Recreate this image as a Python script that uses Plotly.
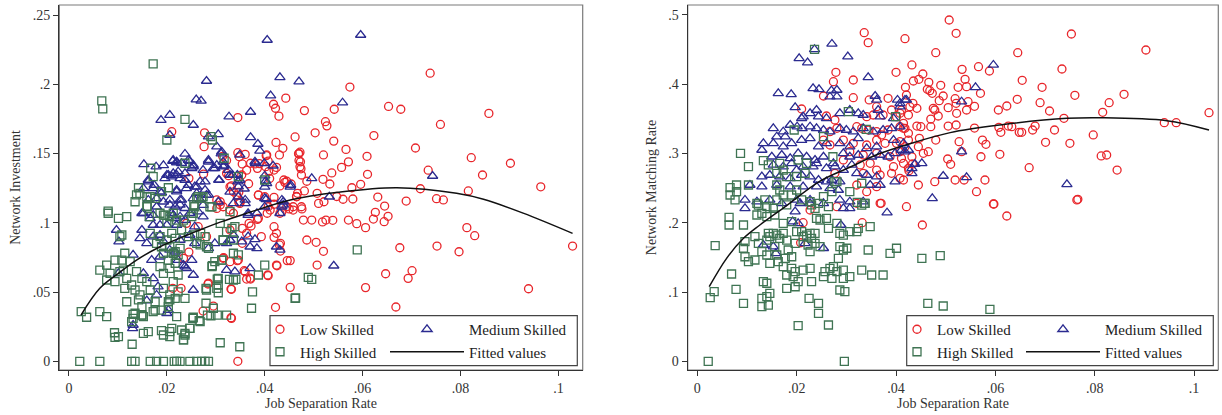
import plotly.graph_objects as go

FONT = "Liberation Serif"
RED = "#e8262b"
BLUE = "#2b2b90"
GREEN = "#3f7453"

# ---------------- tick labels ----------------
sep_ticks = [0, 0.02, 0.04, 0.06, 0.08, 0.10]
sep_labels = ["0", ".02", ".04", ".06", ".08", ".1"]
inv_ticks = [0, 0.05, 0.10, 0.15, 0.20, 0.25]
inv_labels = ["0", ".05", ".1", ".15", ".2", ".25"]
match_ticks = [0, 0.1, 0.2, 0.3, 0.4, 0.5]
match_labels = ["0", ".1", ".2", ".3", ".4", ".5"]

# ---------------- left panel: Network Investment ----------------
inv_low = [
(.0738,.208),(.0574,.198),(.0481,.181),(.0542,.182),(.0653,.184),(.0678,.182),(.0858,.179),(.0759,.171),(.0462,.162),(.0503,.165),
(.0524,.173),(.0527,.170),(.0541,.159),(.0623,.163),(.0708,.154),(.047,.150),(.052,.149),(.0566,.153),(.0609,.148),(.0473,.144),
(.0474,.139),(.0571,.144),(.0557,.140),(.0537,.136),(.061,.135),(.0822,.147),(.0902,.143),(.0734,.138),(.0845,.1345),(.0964,.126),
(.0816,.123),(.0718,.1246),(.0596,.1278),(.0578,.1253),(.0533,.128),(.0519,.1314),(.0486,.130),(.0481,.123),(.0507,.1213),(.0547,.119),
(.056,.117),(.058,.1172),(.0631,.1186),(.0689,.1157),(.0751,.1174),(.0765,.1165),(.0645,.1121),(.051,.114),(.0521,.1152),(.0465,.119),
(.0475,.1116),(.1029,.0832),(.0813,.0965),(.0829,.0907),(.0752,.0832),(.0797,.0791),(.0676,.082),(.0626,.1076),(.0622,.1027),(.0652,.1047),
(.0644,.1008),(.0606,.0965),(.0588,.0994),(.0571,.102),(.0539,.1018),(.0518,.1006),(.0525,.102),(.0496,.102),(.0479,.102),(.0476,.110),
(.0458,.1092),(.0486,.0876),(.0505,.0859),(.052,.0794),(.0507,.0695),(.0647,.0632),(.0701,.0654),(.0693,.0599),(.0606,.0532),(.0668,.0392),
(.0939,.0524),(.0452,.0727),(.0452,.0534),(.021,.1658),(.0277,.165),(.0276,.155),(.0345,.176),(.0443,.190),(.0418,.1856),(.0422,.1827),
(.0429,.177),(.0423,.158),(.0437,.1538),(.043,.149),(.0345,.1506),(.036,.1494),(.0348,.1477),(.0354,.1425),(.038,.1425),(.0389,.1427),
(.0404,.149),(.0314,.148),(.0322,.145),(.0322,.1357),(.0326,.134),(.0275,.1352),(.0245,.1321),(.0347,.1148),(.0347,.122),(.0332,.1266),
(.0367,.1282),(.0387,.1201),(.0402,.1405),(.0419,.1381),(.0439,.1309),(.0441,.1292),(.0454,.128),(.0419,.1184),(.0419,.1134),(.0472,.151),
(.0467,.1213),(.0302,.1165),(.0245,.0789),(.0281,.090),(.0316,.0748),(.0329,.0719),(.0212,.0527),(.0229,.0527),(.0285,.0565),(.0274,.0363),
(.0295,.0399),(.0332,.052),(.0332,.031),(.0345,0),(.0358,.0654),(.0363,.0594),(.0371,.0594),(.0344,.0727),(.0354,.0852),(.0363,.0924),
(.0368,.0996),(.0387,.1032),(.0405,.1069),(.0419,.0972),(.0419,.0895),(.0393,.090),(.0432,.0852),(.0432,.0796),(.0425,.069),(.0446,.0727),
(.0407,.0618),(.0422,.039),(.0431,.1069),(.045,.110),(.0329,.1092),(.0336,.1069),(.0349,.114),(.0309,.1128),(.024,.0996),(.0264,.0972),
(.0385,.1025),(.0372,.0977),(.0354,.096),(.0424,.0924),(.043,.084),(.0424,.0695),(.0406,.0623),(.036,.0647),(.037,.060),(.0329,.0948),
(.0315,.0744),(.0346,.0731),(.0284,.0558),(.0331,.0522),(.0331,.0315),(.0234,.0744),(.0403,.1485),(.0407,.1446),(.0385,.1393),(.0371,.143),
(.0363,.138),(.0353,.1345),(.0408,.137),(.0424,.140),(.041,.132),(.0469,.1498),(.047,.145),(.0472,.1405),(.0475,.1345),(.0445,.130),
(.0431,.1266),(.0329,.126),(.0336,.1224),(.0343,.120),(.035,.1152),(.0309,.1152),(.0315,.1116),(.0302,.1104),(.0387,.120),(.04,.1188),
(.0407,.1116),(.0411,.1092),(.0465,.1188),(.0458,.1116),(.0445,.1116),(.0435,.108),
]

inv_med = [
(.0405,.232),(.0431,.205),(.047,.202),(.0281,.2024),(.0412,.1918),(.026,.189),(.027,.188),(.0371,.180),(.0327,.1766),(.0206,.1778),
(.0188,.1742),(.0254,.1706),(.0206,.1634),(.0305,.1639),(.0371,.1617),(.0386,.1569),(.039,.152),(.0302,.155),(.0311,.150),(.0237,.1497),
(.0153,.1422),(.0178,.1405),(.0193,.1415),(.0212,.1446),(.022,.1434),(.0247,.1446),(.0285,.1441),(.0298,.1393),(.0317,.1412),(.0334,.1345),
(.0306,.1309),(.0344,.1345),(.0345,.1297),(.0358,.1246),(.0381,.143),(.0399,.143),(.0417,.1412),(.040,.134),(.0402,.1302),(.040,.126),
(.0452,.126),(.0435,.1165),(.0403,.117),(.0162,.1297),(.0174,.1273),(.0196,.1321),(.0203,.1345),(.0213,.1357),(.0223,.1369),(.0237,.1357),
(.0254,.1405),(.0268,.1297),(.0261,.126),(.0244,.1273),(.022,.1237),(.0189,.1217),(.0179,.1177),(.0206,.1165),(.023,.1165),(.0254,.1177),
(.0281,.120),(.0329,.1224),(.0336,.114),(.036,.1165),(.0274,.1128),(.0305,.1152),(.0596,.2356),(.0559,.1867),(.0496,.1321),(.0532,.1188),
(.0743,.1338),(.0453,.1273),(.0541,.069),(.0312,.1513),(.0285,.1622),(.0349,.149),(.038,.1441),(.0244,.1453),(.0254,.1417),(.0251,.1394),
(.0274,.1381),(.0285,.1453),(.0295,.1394),(.0302,.1417),(.0315,.1405),(.0315,.1441),(.0326,.1381),(.0329,.1345),(.0278,.1297),(.0307,.1309),
(.0349,.1309),(.0346,.1261),(.0404,.1285),(.0237,.1309),(.024,.1249),(.0257,.1261),(.0261,.1213),(.0278,.1237),(.0285,.1201),(.0268,.1165),
(.040,.1177),(.0438,.1129),(.040,.1116),(.0346,.1188),(.036,.1141),(.0366,.1069),(.0227,.1165),(.0237,.1105),(.0247,.1069),(.0264,.108),
(.0274,.1044),(.0213,.1453),(.022,.1441),(.023,.143),(.020,.1345),(.021,.1333),(.022,.1345),(.0227,.1321),(.0162,.1309),(.0152,.1249),
(.0172,.1249),(.0186,.1225),(.022,.1225),(.0193,.1152),(.0206,.1129),(.0217,.1116),(.0227,.1129),(.0149,.1069),(.0162,.1165),(.0179,.1116),
(.0213,.1056),(.0227,.1044),(.0152,.1069),(.0172,.1056),(.0186,.0984),(.0172,.0984),(.0166,.1032),(.021,.1069),(.0217,.1032),(.022,.0984),
(.020,.0984),(.0097,.0948),(.0102,.0864),(.0149,.0948),(.0145,.0888),(.0159,.0852),(.0172,.090),(.0186,.0912),(.0193,.0864),(.0131,.0768),
(.0169,.0731),(.0186,.0755),(.0206,.0804),(.0217,.0791),(.0223,.0731),(.0152,.0635),(.0172,.0599),(.0182,.0539),(.0101,.0635),(.0159,.0438),
(.0179,.0479),(.0203,.037),(.020,.0347),(.0131,.0262),(.013,.0238),(.0234,.0695),(.0237,.102),(.0257,.0972),(.0247,.0912),(.0227,.0876),
(.0257,.0852),(.0285,.0816),(.0298,.0852),(.0322,.0852),(.0329,.0876),(.0336,.0912),(.0353,.0864),(.0366,.090),(.038,.0881),(.037,.0827),
(.0384,.0816),(.0424,.0827),(.0431,.0804),(.0366,.1056),(.0384,.1069),(.0431,.1069),(.0322,.0659),(.0339,.0647),(.037,.0671),(.0251,.0731),
(.0237,.0683),(.0254,.0623),(.024,.0671),(.0254,.0515),(.0435,.1116),(.0438,.1152),
]

inv_high = [
(.0172,.2147),(.0067,.188),(.0069,.1822),(.0237,.1747),(.020,.1598),(.029,.1622),(.0293,.1598),(.0317,.1466),(.0167,.1394),(.0172,.1333),
(.0237,.143),(.0142,.1253),(.0203,.1253),(.0138,.1201),(.0135,.1152),(.0159,.1188),(.0176,.1177),(.0159,.1121),(.0189,.1225),(.0261,.1177),
(.0274,.1188),(.0255,.1129),(.0346,.1333),(.040,.1309),(.008,.1085),(.0288,.1116),(.0589,.0804),(.0489,.0606),(.0496,.0592),(.0463,.0457),
(.0025,.0358),(.0036,.0318),(.0063,.0358),(.0077,.0322),(.0022,0),(.0063,0),(.0128,0),(.0135,0),(.0166,0),(.0179,0),
(.0193,0),(.0215,0),(.022,0),(.0227,0),(.0247,0),(.0261,0),(.0271,0),(.0278,0),(.0285,0),(.0093,.0206),
(.0101,.0178),(.0094,.0173),(.0129,.0123),(.0131,.0339),(.0131,.031),(.0128,.0286),(.0149,.0334),(.0152,.0322),(.0162,.0214),(.0152,.0202),
(.0172,.0358),(.0176,.043),(.0189,.0221),(.0193,.019),(.0206,.0214),(.021,.0238),(.0206,.0178),(.023,.0226),(.0237,.019),(.0247,.0238),
(.0234,.0154),(.0203,.043),(.0206,.0443),(.022,.0322),(.0237,.0455),(.0253,.031),(.0266,.0293),(.028,.0419),(.0283,.0334),(.029,.0329),
(.0295,.0383),(.0303,.0334),(.0322,.0334),(.0309,.0134),(.0349,.0105),(.0373,.0383),(.0375,.0502),(.028,.0527),(.0305,.0551),(.0303,.0594),
(.0336,.0587),(.0328,.0592),(.0341,.0592),(.0387,.0623),(.040,.0695),(.0462,.0455),(.0298,.0719),(.0312,.0731),(.0293,.069),(.0281,.0827),
(.0285,.0816),(.0336,.0876),(.0333,.096),(.0339,.0972),(.0315,.0876),(.0268,.084),(.0257,.0912),(.0269,.0924),(.008,.1069),(.0101,.1032),
(.0118,.1044),(.0108,.0912),(.0104,.090),(.0114,.078),(.0125,.0719),(.0063,.0659),(.0077,.0695),(.0084,.0635),(.0077,.0587),(.0094,.0575),
(.0094,.0731),(.0111,.0659),(.0118,.0599),(.0114,.0527),(.0128,.0551),(.0135,.0515),(.0118,.043),(.0142,.0443),(.0149,.0394),(.0135,.0347),
(.0149,.0334),(.0104,.0647),(.0108,.0731),(.0138,.0647),(.0149,.0599),(.0159,.0575),(.0166,.0515),(.0145,.0479),(.0162,.0455),(.0176,.037),
(.0189,.037),(.0203,.0394),(.0186,.0683),(.0193,.0635),(.0206,.0671),(.0213,.0575),(.0223,.0623),(.0217,.0708),(.0203,.0731),(.0213,.078),
(.0223,.0768),(.0223,.0502),(.0206,.0479),(.0217,.0455),(.0193,.0527),(.0166,.0924),(.0186,.090),(.0179,.0852),(.0189,.0827),(.020,.0876),
(.021,.0924),(.0217,.0888),(.0206,.0827),(.0217,.0791),(.0227,.0816),(.0193,.078),(.0186,.1069),(.0193,.1056),(.0206,.1044),(.022,.102),
(.0213,.1069),(.020,.0996),(.0234,.102),(.0251,.1044),(.023,.0948),(.0244,.090),(.0261,.0852),(.0278,.090),(.0315,.0876),(.0309,.0996),
(.0322,.0936),(.0336,.078),(.0346,.0768),(.0312,.0731),(.0292,.0683),(.0305,.0599),(.0281,.0515),(.0302,.0527),(.0305,.0495),(.0254,.0318),
(.0268,.0286),(.0247,.0238),(.0237,.0202),(.0234,.0154),(.0145,.1213),(.016,.1116),(.0166,.1188),(.0164,.1044),(.0196,.1056),(.0264,.1188),
(.0271,.1177),(.0257,.1116),(.0292,.1116),(.0254,.1069),(.0329,.108),
]

inv_fit = [
(.00245,.0334),(.0063,.0527),(.0101,.0635),(.0138,.0731),(.0186,.0827),(.0237,.0905),(.0309,.1005),(.036,.1065),(.0452,.1165),
(.055,.122),(.067,.1253),(.0792,.1213),(.0847,.117),(.0928,.107),(.1029,.0924),
]

# ---------------- right panel: Network Matching Rate ----------------
match_low = [
(.0507,.4925),(.0521,.4733),(.0418,.4655),(.0753,.4723),(.0903,.4492),(.048,.4453),(.0645,.4453),(.0432,.4276),(.0566,.4251),(.0533,.4213),
(.0588,.4189),(.0734,.4218),(.0454,.4146),(.0446,.4069),(.0435,.4045),(.0466,.4026),(.0463,.3925),(.0473,.3867),(.0468,.3905),(.049,.3983),
(.0495,.3828),(.0539,.4069),(.0542,.3963),(.0525,.3954),(.057,.3867),(.0654,.4055),(.0694,.3954),(.076,.3838),(.0859,.3853),(.0419,.3954),
(.0421,.3843),(.0487,.3761),(.0475,.3651),(.047,.3496),(.0485,.354),(.0478,.3626),(.0434,.3723),(.0428,.3674),(.0425,.3554),(.0411,.3626),
(.0442,.3651),(.0519,.3789),(.0521,.3723),(.0505,.366),(.0522,.3579),(.0545,.3746),(.0542,.3626),(.0558,.368),(.0606,.3626),(.0623,.3684),
(.0644,.3781),(.069,.3732),(.0709,.3612),(.0816,.3593),(.0829,.3732),(.0738,.3506),(.094,.3443),(.0964,.3443),(.103,.3587),(.0408,.3385),
(.0415,.3362),(.0442,.3395),(.045,.3385),(.047,.3385),(.0505,.3395),(.0521,.341),(.0558,.3366),(.0607,.3376),(.0611,.3304),(.0626,.3395),
(.0633,.3385),(.0648,.3304),(.0653,.3304),(.0675,.3338),(.068,.3395),(.0719,.3338),(.0797,.3266),(.0701,.316),(.075,.3146),(.0425,.329),
(.0425,.3193),(.0447,.3218),(.048,.3193),(.0445,.3097),(.0408,.3169),(.0527,.3169),(.0574,.3193),(.0581,.3131),(.0571,.2952),(.0609,.2987),
(.0532,.3025),(.0455,.3001),(.0465,.3025),(.0432,.2952),(.0411,.2929),(.0504,.2919),(.051,.2843),(.0433,.2847),(.0426,.275),(.0408,.2641),
(.0668,.2794),(.0813,.2963),(.0824,.2977),(.0845,.276),(.0766,.2338),(.0596,.227),(.0478,.2592),(.0445,.2544),(.0421,.2231),(.0519,.2616),
(.0537,.2616),(.0562,.2447),(.0579,.2616),(.0336,.4742),(.0344,.4598),(.0279,.417),(.0274,.4035),(.0314,.4059),(.040,.417),(.021,.3641),
(.0254,.3828),(.0314,.3804),(.0346,.3771),(.0361,.3674),(.0384,.3795),(.0341,.353),(.0354,.3554),(.0374,.3554),(.0391,.3626),(.0401,.353),
(.0408,.3579),(.0415,.3434),(.0418,.3362),(.026,.354),(.0277,.3482),(.0281,.3362),(.0267,.3313),(.0321,.3385),(.0331,.3362),(.0344,.3338),
(.0361,.3313),(.0371,.3266),(.0384,.3338),(.0254,.3193),(.0267,.3121),(.0294,.3193),(.0314,.3146),(.0341,.3121),(.0361,.3193),(.0378,.3146),
(.0401,.3146),(.0418,.3097),(.0307,.3025),(.0334,.2977),(.0361,.3001),(.0388,.2952),(.0408,.3025),(.0294,.2905),(.0328,.2833),(.0348,.2857),
(.0361,.276),(.0395,.2808),(.0415,.2857),(.0425,.2785),(.0277,.2713),(.0334,.2713),(.0368,.2688),(.0391,.2713),(.0321,.2544),(.0341,.2447),
(.0361,.252),(.0415,.2616),(.0281,.2231),(.0368,.228),(.0321,.228),(.0227,.2183),(.0213,.200),(.0208,.1711),(.037,.228),(.0332,.200),
(.0453,.1967),(.0597,.227),(.0623,.2097),(.0764,.2328),
]

match_med = [
(.0271,.4579),(.0236,.4502),(.0205,.4372),(.0222,.4309),(.0303,.4396),(.0344,.4098),(.0163,.3867),(.0189,.3853),(.0233,.3939),(.0245,.3925),
(.027,.3905),(.0281,.3915),(.0267,.3818),(.0281,.3818),(.0358,.3828),(.0361,.3771),(.0403,.3771),(.0421,.3771),(.0197,.3665),(.0213,.353),
(.021,.3506),(.0227,.3579),(.024,.3626),(.0244,.353),(.026,.3506),(.0287,.3579),(.0307,.3626),(.0324,.3579),(.0334,.3554),(.0364,.3626),
(.0368,.353),(.0395,.3506),(.0408,.3674),(.0153,.3362),(.0173,.3313),(.0177,.3241),(.016,.3241),(.0187,.341),(.0201,.3385),(.0211,.3362),
(.0227,.3385),(.024,.3362),(.0254,.3338),(.0267,.3313),(.0287,.3362),(.030,.3338),(.0314,.3313),(.0334,.3362),(.0354,.3313),(.0374,.3338),
(.0391,.3362),(.0408,.3385),(.0133,.3146),(.0153,.3146),(.0173,.3097),(.019,.3146),(.021,.3193),(.0227,.3218),(.0244,.3097),(.026,.3146),
(.0287,.3146),(.0307,.3097),(.0324,.3218),(.0341,.3073),(.0361,.3097),(.0395,.3193),(.0415,.3146),(.013,.3049),(.015,.2952),(.017,.2977),
(.0187,.2929),(.0203,.3001),(.022,.2952),(.0237,.2905),(.0254,.2952),(.0274,.2857),(.0294,.3001),(.0307,.2952),(.0324,.2977),(.0351,.2952),
(.0368,.2977),(.0384,.2952),(.0398,.3001),(.0418,.3025),(.0153,.2833),(.0173,.2808),(.019,.2857),(.020,.276),(.0213,.2808),(.0233,.2808),
(.024,.2857),(.026,.2785),(.0277,.2808),(.0294,.276),(.0311,.2833),(.013,.2664),(.0146,.2688),(.0166,.2664),(.0187,.2641),(.021,.2688),
(.0227,.2664),(.0244,.2616),(.026,.2592),(.0271,.2616),(.0287,.2592),(.0321,.2713),(.0341,.2688),(.0361,.2664),(.0398,.2592),(.0106,.2544),
(.013,.252),(.016,.2544),(.0187,.252),(.0213,.252),(.024,.252),(.0267,.2496),(.0284,.2472),(.0348,.2544),(.0368,.2544),(.0096,.2328),
(.012,.2303),(.0146,.2328),(.017,.228),(.020,.2328),(.0227,.2328),(.0254,.228),(.0287,.2328),(.0307,.2303),(.0334,.2303),(.0596,.4276),
(.056,.3954),(.0532,.3746),(.0418,.3771),(.0408,.3723),(.0532,.3025),(.0411,.3049),(.0425,.3049),(.0438,.2847),(.0452,.2857),(.0432,.2785),
(.0432,.2713),(.0495,.2674),(.0542,.2655),(.0473,.2352),(.0744,.2554),(.0096,.2208),(.0197,.2159),(.0207,.228),(.0227,.228),(.0192,.2015),
(.0203,.1991),(.0217,.1703),(.0254,.1631),(.0133,.1678),(.0153,.1654),(.0158,.1558),(.0289,.1967),(.0294,.2208),(.0307,.2208),(.0382,.2144),
]

match_high = [
(.0236,.4502),(.0087,.3001),(.0103,.2808),(.0133,.2895),(.0143,.2833),(.0166,.2857),(.0173,.276),(.016,.2713),(.018,.2664),(.0195,.3338),
(.0203,.2905),(.022,.2857),(.0217,.2713),(.020,.2664),(.0254,.3241),(.0273,.2952),(.0277,.2592),(.0304,.3602),(.034,.3348),(.0331,.2569),
(.0322,.2294),(.0336,.228),(.0399,.353),(.0066,.2505),(.0079,.2544),(.0066,.240),(.0076,.2328),(.0079,.2447),(.0103,.2544),(.012,.228),
(.0136,.2328),(.016,.2544),(.0166,.2472),(.0173,.240),(.016,.2328),(.018,.2256),(.019,.240),(.020,.2472),(.021,.2328),(.0227,.2303),
(.023,.2256),(.0244,.228),(.0254,.2375),(.0271,.2447),(.0307,.2447),(.0281,.2592),(.0022,0),(.0296,0),(.0026,.0918),(.0034,.1004),
(.0036,.1668),(.0064,.2078),(.0064,.1967),(.0069,.126),(.0078,.1039),(.0093,.0837),(.0093,.1967),(.0096,.1726),(.0093,.1631),(.0096,.1509),
(.0103,.1437),(.0116,.1462),(.012,.2111),(.0123,.2255),(.013,.2136),(.014,.2231),(.0153,.2208),(.0156,.2111),(.014,.2087),(.0116,.1798),
(.0123,.1703),(.013,.1582),(.014,.175),(.0146,.1798),(.014,.1534),(.0146,.1414),(.0143,.1847),(.0133,.1149),(.014,.1126),(.013,.0909),
(.014,.0932),(.0143,.0812),(.0146,.0981),(.013,.0788),(.0153,.1847),(.016,.1822),(.0166,.1774),(.0173,.1847),(.018,.175),(.0156,.1654),
(.016,.1534),(.0163,.1437),(.0177,.1486),(.0183,.1606),(.019,.1509),(.0197,.1703),(.020,.187),(.019,.2015),(.0173,.1991),(.0173,.1365),
(.019,.1342),(.018,.1245),(.0193,.1221),(.0197,.1076),(.018,.1053),(.0203,.1149),(.0197,.1293),(.0203,.0514),(.021,.187),(.0213,.1798),
(.022,.1822),(.0227,.1847),(.023,.1774),(.0223,.1678),(.0227,.1582),(.0237,.1703),(.0237,.1847),(.0213,.1317),(.0227,.1342),(.023,.1149),
(.0225,.0909),(.0244,.0837),(.0247,.1654),(.0247,.2039),(.024,.2063),(.0237,.2208),(.0244,.0693),(.0264,.0524),(.0254,.1221),(.0257,.1293),
(.0267,.1342),(.0271,.1198),(.0281,.1293),(.0274,.1365),(.0264,.1919),(.0264,.2231),(.026,.2063),(.0281,.1991),(.0287,.1847),(.0294,.1822),
(.0287,.1654),(.0294,.1606),(.0301,.1631),(.0284,.1486),(.0294,.1317),(.0294,.1198),(.0307,.1221),(.0287,.1029),(.0297,.1004),(.0307,.187),
(.0321,.187),(.0324,.1919),(.0331,.2255),(.0338,.228),(.0331,.1317),(.0344,.1606),(.0348,.1942),(.0351,.1245),(.0374,.1245),(.0388,.1558),
(.0401,.1631),(.0452,.1486),(.0489,.1524),(.0464,.0837),(.0495,.0798),(.0589,.075),
]

match_fit = [
(.0024,.1077),(.0059,.1486),(.0093,.1775),(.0126,.1967),(.0177,.2231),(.0247,.2600),(.0307,.2800),(.0361,.2980),(.0428,.3140),
(.0509,.3300),(.0609,.3410),(.0744,.3506),(.0811,.3515),(.0945,.3472),(.1030,.3338),
]


def xs(p):
    return [a for a, b in p]


def ys(p):
    return [b for a, b in p]


fig = go.Figure()

panels = [
    (inv_low, inv_med, inv_high, inv_fit, "x", "y", "legend", "legend2"),
    (match_low, match_med, match_high, match_fit, "x2", "y2", "legend3", "legend4"),
]
for low, med, high, fit, xa, ya, lg1, lg2 in panels:
    fig.add_trace(go.Scatter(
        x=xs(low), y=ys(low), mode="markers", name="Low Skilled",
        marker=dict(symbol="circle-open", size=8, color=RED, line=dict(width=1.3, color=RED)),
        xaxis=xa, yaxis=ya, legend=lg1))
    fig.add_trace(go.Scatter(
        x=xs(med), y=ys(med), mode="markers", name="Medium Skilled",
        marker=dict(symbol="triangle-up-open", size=9, color=BLUE, line=dict(width=1.3, color=BLUE)),
        xaxis=xa, yaxis=ya, legend=lg2))
    fig.add_trace(go.Scatter(
        x=xs(high), y=ys(high), mode="markers", name="High Skilled",
        marker=dict(symbol="square-open", size=8, color=GREEN, line=dict(width=1.3, color=GREEN)),
        xaxis=xa, yaxis=ya, legend=lg1))
    fig.add_trace(go.Scatter(
        x=xs(fit), y=ys(fit), mode="lines", name="Fitted values",
        line=dict(color="#111111", width=1.5, shape="spline", smoothing=1.0),
        xaxis=xa, yaxis=ya, legend=lg2))

W, H = 1222, 415


def px_x(v):
    return v / W


def px_y(v):
    return 1 - v / H


axis_common = dict(
    showgrid=False, zeroline=False, showline=True, linecolor="#333333", linewidth=1.3,
    ticks="outside", ticklen=5, tickwidth=1.2, tickcolor="#333333",
    tickfont=dict(family=FONT, size=14, color="#333333"),
)

fig.update_layout(
    width=W, height=H,
    margin=dict(l=0, r=0, t=0, b=0),
    paper_bgcolor="white", plot_bgcolor="white",
    font=dict(family=FONT, color="#333333"),
    xaxis=dict(axis_common, domain=[px_x(59.3), px_x(582.7)], range=[-0.00198, 0.10497],
               tickvals=sep_ticks, ticktext=sep_labels, anchor="y",
               title=dict(text="Job Separation Rate", font=dict(family=FONT, size=14, color="#333333"), standoff=1)),
    yaxis=dict(axis_common, domain=[px_y(370), px_y(5)], range=[-0.00628, 0.25726],
               tickvals=inv_ticks, ticktext=inv_labels, anchor="x",
               title=dict(text="Network Investment", font=dict(family=FONT, size=14, color="#333333"), standoff=8)),
    xaxis2=dict(axis_common, domain=[px_x(687.7), px_x(1218.3)], range=[-0.00193, 0.10487],
                tickvals=sep_ticks, ticktext=sep_labels, anchor="y2",
                title=dict(text="Job Separation Rate", font=dict(family=FONT, size=14, color="#333333"), standoff=1)),
    yaxis2=dict(axis_common, domain=[px_y(370), px_y(5)], range=[-0.01255, 0.51414],
                tickvals=match_ticks, ticktext=match_labels, anchor="x2",
                title=dict(text="Network Matching Rate", font=dict(family=FONT, size=14, color="#333333"), standoff=8)),
)

leg_common = dict(xanchor="left", yanchor="top", bgcolor="rgba(0,0,0,0)", borderwidth=0,
                  font=dict(family=FONT, size=15, color="#222222"), tracegroupgap=0,
                  orientation="v")
fig.update_layout(
    legend=dict(leg_common, x=px_x(260), y=px_y(313), itemwidth=30),
    legend2=dict(leg_common, x=px_x(385), y=px_y(313), itemwidth=74),
    legend3=dict(leg_common, x=px_x(897), y=px_y(313), itemwidth=30),
    legend4=dict(leg_common, x=px_x(1021), y=px_y(313), itemwidth=74),
)

shapes = []
for xd, yd in (("x domain", "y domain"), ("x2 domain", "y2 domain")):
    shapes.append(dict(type="rect", xref=xd, yref=yd, x0=0, x1=1, y0=0, y1=1,
                       line=dict(color="#7a7a7a", width=1.2), layer="below"))
for x0, x1 in ((270, 577.3), (906.7, 1213.3)):
    shapes.append(dict(type="rect", xref="paper", yref="paper",
                       x0=px_x(x0), x1=px_x(x1), y0=px_y(365.7), y1=px_y(315.7),
                       line=dict(color="#444444", width=1.2), fillcolor="white", layer="above"))
fig.update_layout(shapes=shapes)

fig.write_html("out.html")
